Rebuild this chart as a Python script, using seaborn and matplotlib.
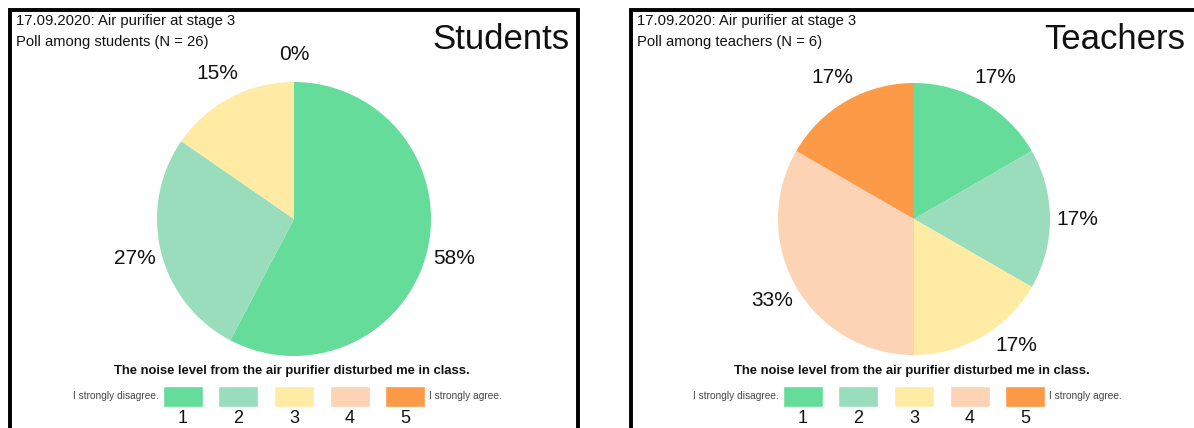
import matplotlib
matplotlib.use("Agg")
import numpy as np
import matplotlib.pyplot as plt
from matplotlib.patches import Rectangle
import seaborn as sns

# --- data ---
levels = ["1", "2", "3", "4", "5"]
level_colors = ["#66dc9b", "#99ddbd", "#ffeba3", "#fdd3b5", "#fd9a47"]
students_counts = [15, 7, 4, 0, 0]   # N = 26
teachers_counts = [1, 1, 1, 2, 1]    # N = 6
groups = ["Students", "Teachers"]
poll_lines = ["Poll among students (N = 26)", "Poll among teachers (N = 6)"]
header = "17.09.2020: Air purifier at stage 3"
question = "The noise level from the air purifier disturbed me in class."
left_anchor = "I strongly disagree."
right_anchor = "I strongly agree."

sns.set_theme(style="white")
plt.rcParams["font.family"] = ["Liberation Sans", "DejaVu Sans"]

W, H = 1194, 428
fig = plt.figure(figsize=(W / 100, H / 100), dpi=100)
palette = sns.color_palette(level_colors)


def fx(px):
    return px / W


def fy(py):
    # image y (from top) -> figure fraction
    return 1 - py / H


def draw_panel(counts, title, poll, x0, x1, cx, cy, r, nudge=None):
    # panel frame (bottom and, for the right one, the right side run off the picture)
    fig.patches.append(Rectangle((fx(x0), -0.1), fx(x1 - x0), fy(10) + 0.1,
                                 transform=fig.transFigure, fill=False,
                                 edgecolor="black", linewidth=2.8))
    fig.text(fx(x0 + 6), fy(14), header, fontsize=10.6, va="top", color="#111111")
    fig.text(fx(x0 + 6), fy(35), poll, fontsize=10.6, va="top", color="#111111")
    fig.text(fx(min(x1, W) - 9), fy(49), title, fontsize=25, ha="right",
             va="baseline", color="#111111")

    # pie
    half = 150
    ax = fig.add_axes([fx(cx - half), fy(cy + half), fx(2 * half), (2 * half) / H])
    shown_zero = []

    def fmt(p):
        # the empty wedges sit on top of each other, show their label once
        if round(p) == 0:
            if shown_zero:
                return ""
            shown_zero.append(1)
        return f"{p:.0f}%"

    wedges, _, pcts = ax.pie(counts, colors=palette, startangle=90, counterclock=False,
                             autopct=fmt, pctdistance=1.2, wedgeprops=dict(linewidth=0),
                             textprops=dict(fontsize=15, color="#111111"))
    # label that would run into the question text is turned a little round the pie
    if nudge is not None:
        i, ang = nudge
        x, y = pcts[i].get_position()
        d = np.hypot(x, y)
        a = np.arctan2(y, x) + np.deg2rad(ang)
        pcts[i].set_position((d * np.cos(a), d * np.sin(a)))
    ax.set_xlim(-half / r, half / r)
    ax.set_ylim(-half / r, half / r)
    ax.set_aspect("equal")
    ax.axis("off")

    # colour scale legend
    fig.text(fx(cx - 2), fy(371), question, fontsize=9.4, fontweight="bold",
             ha="center", va="center", color="#111111")
    step = 55.6
    lax = fig.add_axes([fx(cx - 2.5 * step), fy(407), fx(5 * step), 21 / H])
    sns.barplot(x=levels, y=[1] * len(levels), hue=levels, palette=palette,
                saturation=1, width=0.72, legend=False, ax=lax)
    lax.set_ylim(0, 1)
    lax.set_xlim(-0.5, len(levels) - 0.5)
    lax.set_yticks([])
    lax.set_xlabel("")
    lax.set_ylabel("")
    lax.tick_params(axis="x", length=0, pad=2, labelsize=13, labelcolor="#111111")
    for s in lax.spines.values():
        s.set_visible(False)
    lax.patch.set_alpha(0)
    fig.text(fx(cx - 2.5 * step + 0.14 * step - 4), fy(396), left_anchor,
             fontsize=7.3, ha="right", va="center", color="#444444")
    fig.text(fx(cx + 2.5 * step - 0.14 * step + 4), fy(396), right_anchor,
             fontsize=7.3, ha="left", va="center", color="#444444")


draw_panel(students_counts, groups[0], poll_lines[0], 10, 578, 294, 219, 137)
draw_panel(teachers_counts, groups[1], poll_lines[1], 631, 1210, 914, 219, 136,
           nudge=(2, 9))

fig.savefig("out.png", dpi=100, facecolor="white")
